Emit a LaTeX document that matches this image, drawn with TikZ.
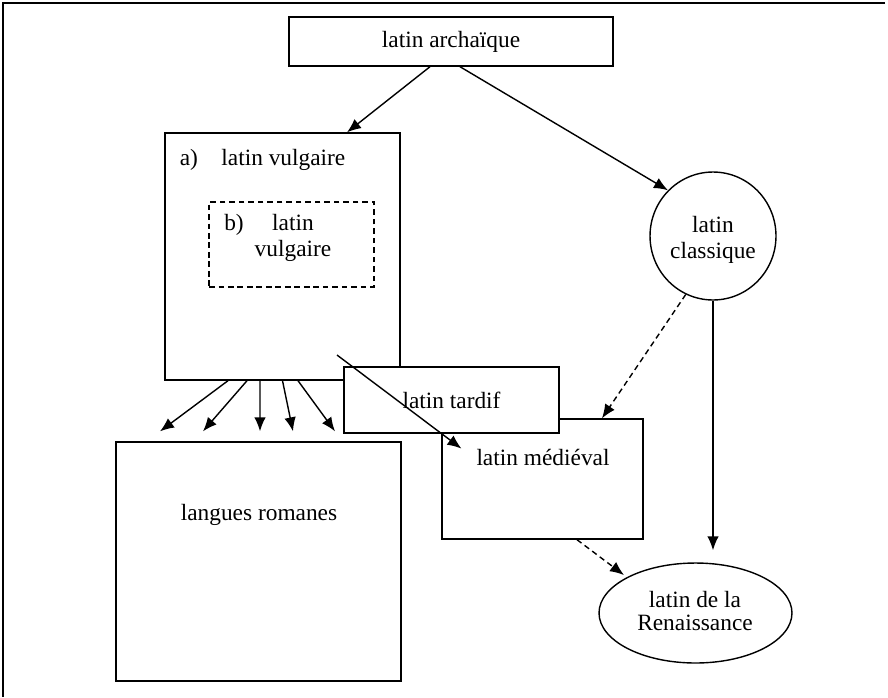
\documentclass[tikz,border=0pt]{standalone}
\usepackage{fontspec}
\setmainfont{Liberation Serif}
\usetikzlibrary{shapes.geometric,arrows.meta}
\tikzset{
  boite/.style={draw, fill=white, line width=0.8pt, inner sep=2pt, font=\fontsize{13.3}{15}\selectfont},
  tirets/.style={draw, line width=0.8pt, dash pattern=on 3.2pt off 2.2pt, inner sep=0pt},
  bulle/.style={ellipse, draw, fill=white, line width=0.8pt, inner sep=0pt},
  texte/.style={font=\fontsize{13.3}{15}\selectfont, inner sep=2pt},
  fleche/.style={line width=0.8pt, -{Latex[length=2.8mm,width=2.3mm]}},
  flechetirets/.style={fleche, dash pattern=on 3.2pt off 2.2pt},
}

\begin{document}
\begin{tikzpicture}[x=0.02cm,y=-0.02cm]
  \useasboundingbox (0,0) rectangle (888,697);
  \draw[line width=1pt] (885,3) -- (3,3) -- (3,697);
  % les boites
  \node[boite, minimum width=6.48cm, minimum height=0.98cm] (archaique) at (451,41.5) {latin archaïque};
  \node[boite, minimum width=4.7cm, minimum height=4.94cm] (vulgaire) at (282.5,256.5) {};
  \node[texte, anchor=west] (vulgtitre) at (176,160) {a)\hspace{1em}latin vulgaire};
  \node[tirets, minimum width=3.3cm, minimum height=1.7cm] (vulgb) at (291.5,244.5) {};
  \node[texte] (lettreb) at (234,225) {b)};
  \node[texte, align=center] (vulgbtexte) at (293,238) {latin\\vulgaire};
  \node[boite, minimum width=4.02cm, minimum height=2.4cm] (medieval) at (542.5,479) {};
  \node[texte] (medtexte) at (543,457) {latin médiéval};
  \node[boite, minimum width=4.3cm, minimum height=1.32cm] (tardif) at (451.5,400) {latin tardif};
  \node[boite, minimum width=5.7cm, minimum height=4.78cm] (langues) at (258.5,561.5) {};
  \node[texte] (languestexte) at (259,515) {langues romanes};
  % les ellipses
  \node[bulle, minimum width=2.52cm, minimum height=2.56cm] (classique) at (713,236) {};
  \node[texte, align=center] (classtexte) at (713,240) {latin\\classique};
  \node[bulle, minimum width=3.86cm, minimum height=2cm] (renaissance) at (695.5,613) {};
  \node[texte, align=center, font=\fontsize{13.3}{13}\selectfont] (renaistexte) at (695,611) {latin de la\\Renaissance};
  % les fleches
  \draw[fleche] ([xshift=-0.42cm]archaique.south) -- ([xshift=1.29cm]vulgaire.north);
  \draw[fleche] ([xshift=0.18cm]archaique.south) -- (classique.north west);
  \foreach \depart/\arrivee in {-1.09/-1.97, -0.71/-1.11, -0.45/0.03, 0/0.69, 0.31/1.53}
    \draw[fleche] ([xshift=\depart cm]vulgaire.south) -- ([xshift=\arrivee cm, yshift=0.2cm]langues.north);
  \coordinate (croise) at (337,355);
  \draw[fleche, shorten >=8pt] (croise) -- (medtexte.west);
  \draw[flechetirets] (classique.245) -- ([xshift=1.19cm]medieval.north);
  \draw[fleche, shorten >=0.24cm] (classique.south) -- (classique.south |- renaissance.north);
  \draw[flechetirets, shorten >=2pt] ([xshift=0.69cm]medieval.south) -- (renaissance.north west);
\end{tikzpicture}
\end{document}
